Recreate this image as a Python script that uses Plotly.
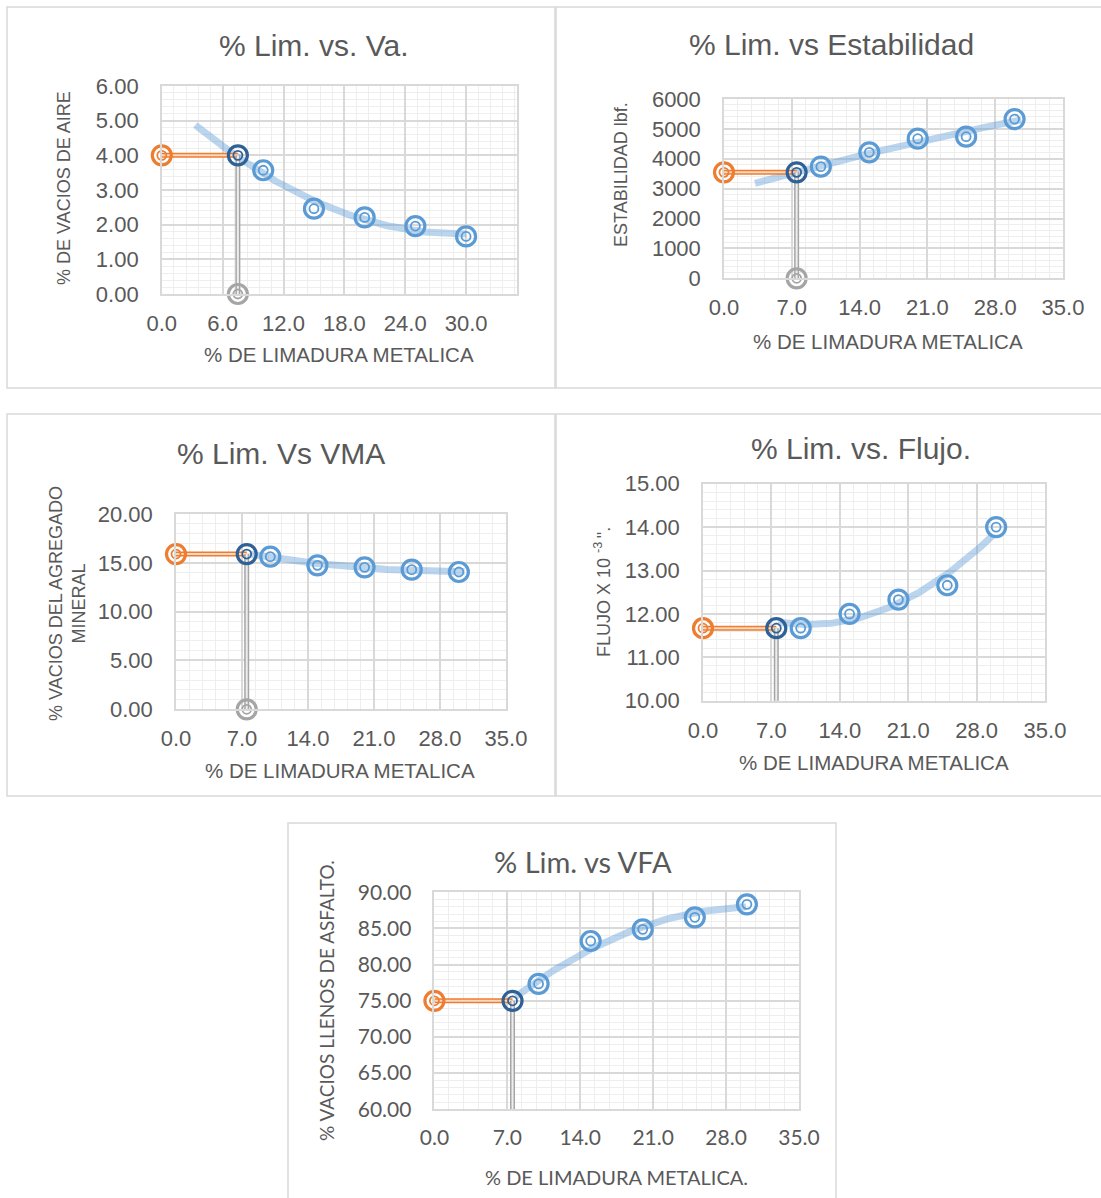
import numpy as np
import plotly.graph_objects as go

# ---------------- data ----------------
x_lim = [10, 15, 20, 25, 30]          # % de limadura metalica (ensayos)
x_opt = 7.5                            # % optimo de limadura

va = [3.57, 2.46, 2.21, 1.96, 1.66]
va_opt = 4.00
estab = [3735, 4214, 4671, 4738, 5329]
estab_opt = 3545
vma = [15.63, 14.74, 14.54, 14.30, 14.06]
vma_opt = 15.90
flujo = [11.67, 12.00, 12.33, 12.66, 14.00]
flujo_opt = 11.67
vfa = [77.33, 83.27, 84.88, 86.54, 88.34]
vfa_opt = 75.00

titles = ["% Lim. vs. Va.", "% Lim. vs Estabilidad", "% Lim. Vs VMA",
          "% Lim. vs. Flujo.", "% Lim. vs VFA"]
x_titles = ["% DE LIMADURA METALICA", "% DE LIMADURA METALICA",
            "% DE LIMADURA METALICA", "% DE LIMADURA METALICA",
            "% DE LIMADURA METALICA."]
y_titles = ["% DE VACIOS DE AIRE", "ESTABILIDAD lbf.",
            "% VACIOS DEL AGREGADO<br>MINERAL",
            "FLUJO X 10 <sup>-3 </sup>\".", "% VACIOS LLENOS DE ASFALTO."]

# ---------------- layout helpers ----------------
W, H = 1101, 1198
def px(x):
    return x / W
def py(y):
    return 1 - y / H

TXT = "#595959"
BLUE = "#5b9bd5"
DARK = "#2f6196"
ORANGE = "#ed7d31"
GRAY = "#a5a5a5"
GRID = "#d9d9d9"
MINOR = "#eeeeee"

panels = [
    dict(y=va, yo=va_opt, xr=[0, 35], xd=6, yr=[0, 6], yd=1, ymd=0.2, yfmt=".2f",
         dom=(161.8, 516.8, 86, 294), trend=(3.3, 30), font="Liberation Sans",
         title_pos=(314, 46), xt_pos=(339, 355), yt_pos=(64, 188), clip=False),
    dict(y=estab, yo=estab_opt, xr=[0, 35], xd=7, yr=[0, 6000], yd=1000, ymd=200, yfmt="d",
         dom=(724, 1063, 99, 278.3), trend=(3.2, 30.7), font="Liberation Sans",
         title_pos=(831, 45), xt_pos=(888, 342), yt_pos=(621, 175), clip=False),
    dict(y=vma, yo=vma_opt, xr=[0, 35], xd=7, yr=[0, 20], yd=5, ymd=1, yfmt=".2f",
         dom=(176, 506, 514, 709.3), trend=(7.8, 30.6), font="Liberation Sans",
         title_pos=(281, 453), xt_pos=(340, 770), yt_pos=(67, 604), clip=False),
    dict(y=flujo, yo=flujo_opt, xr=[0, 35], xd=7, yr=[10, 15], yd=1, ymd=0.2, yfmt=".2f",
         dom=(703, 1045, 483.7, 700.7), trend=(7.7, 29.7), font="Liberation Sans",
         title_pos=(861, 448), xt_pos=(874, 762), yt_pos=(602, 592), clip=True),
    dict(y=vfa, yo=vfa_opt, xr=[0, 35], xd=7, yr=[60, 90], yd=5, ymd=1, yfmt=".2f",
         dom=(434.4, 799, 892.3, 1109.3), trend=(7.8, 29.9), font="Lato",
         title_pos=(583, 861), xt_pos=(617, 1177), yt_pos=(326, 1001), clip=True),
]

fig = go.Figure()
layout = dict(template="none", width=W, height=H,
              margin=dict(l=0, r=0, t=0, b=0, pad=0, autoexpand=False),
              paper_bgcolor="white", plot_bgcolor="white", showlegend=False,
              annotations=[], shapes=[])

# panel frames
frames = [(7, 7, 555, 388), (556, 7, 1103, 388), (7, 414, 555, 796),
          (556, 414, 1103, 796), (288, 823, 836, 1201)]
for (x0, y0, x1, y1) in frames:
    layout["shapes"].append(dict(type="rect", xref="paper", yref="paper",
                                 x0=px(x0), x1=px(x1), y0=py(y1), y1=py(y0),
                                 line=dict(color="#d9d9d9", width=1.5),
                                 fillcolor="rgba(0,0,0,0)", layer="below"))

for i, p in enumerate(panels, start=1):
    xa = "x" if i == 1 else f"x{i}"
    ya = "y" if i == 1 else f"y{i}"
    xkey = "xaxis" if i == 1 else f"xaxis{i}"
    ykey = "yaxis" if i == 1 else f"yaxis{i}"
    l, r, t, b = p["dom"]
    is_cal = p["font"] == "Lato"
    tick_font = dict(family=p["font"], size=21 if is_cal else 22, color=TXT)
    layout[xkey] = dict(domain=[px(l), px(r)], range=p["xr"], anchor=ya,
                        tick0=0, dtick=p["xd"], tickformat=".1f", automargin=False,
                        showgrid=True, gridcolor=GRID, gridwidth=1.5,
                        minor=dict(dtick=p["xd"] / 5, tick0=0, showgrid=True,
                                   gridcolor=MINOR, gridwidth=1),
                        showline=True, mirror=True, linecolor=GRID, linewidth=1.5,
                        zeroline=False, ticks="", tickfont=tick_font,
                        ticklabelstandoff=9, fixedrange=True)
    layout[ykey] = dict(domain=[py(b), py(t)], range=p["yr"], anchor=xa,
                        tick0=p["yr"][0], dtick=p["yd"], tickformat=p["yfmt"],
                        automargin=False,
                        showgrid=True, gridcolor=GRID, gridwidth=1.5,
                        minor=dict(dtick=p["ymd"], showgrid=True,
                                   gridcolor=MINOR, gridwidth=1),
                        showline=True, mirror=True, linecolor=GRID, linewidth=1.5,
                        zeroline=False, ticks="", tickfont=tick_font,
                        ticklabelstandoff=17, fixedrange=True)

    # trendline (polynomial order 2 of the test points)
    coef = np.polyfit(x_lim, p["y"], 2)
    xt = np.linspace(p["trend"][0], p["trend"][1], 120)
    fig.add_trace(go.Scatter(x=xt, y=np.polyval(coef, xt), mode="lines",
                             line=dict(color="rgba(91,155,213,0.42)", width=7),
                             xaxis=xa, yaxis=ya, hoverinfo="skip"))
    # horizontal orange connector (double line)
    for col, w in ((ORANGE, 5), ("#fbd9c2", 2)):
        fig.add_trace(go.Scatter(x=[0, x_opt], y=[p["yo"], p["yo"]], mode="lines",
                                 line=dict(color=col, width=w), xaxis=xa, yaxis=ya,
                                 hoverinfo="skip"))
    # vertical gray connector (double line)
    for col, w in ((GRAY, 5), ("#eeeeee", 2)):
        fig.add_trace(go.Scatter(x=[x_opt, x_opt], y=[0, p["yo"]], mode="lines",
                                 line=dict(color=col, width=w), xaxis=xa, yaxis=ya,
                                 hoverinfo="skip"))
    # markers: (x, y, colour, clip) drawn as double rings
    pts = [([0], [p["yo"]], ORANGE, False), ([x_opt], [0], GRAY, p["clip"]),
           (x_lim, p["y"], BLUE, False), ([x_opt], [p["yo"]], DARK, False)]
    for xs, ys, col, clip in pts:
        fig.add_trace(go.Scatter(x=xs, y=ys, mode="markers",
                                 marker=dict(symbol="circle-open", size=19, color=col,
                                             line=dict(color=col, width=3.2)),
                                 cliponaxis=clip, xaxis=xa, yaxis=ya))
        fig.add_trace(go.Scatter(x=xs, y=ys, mode="markers",
                                 marker=dict(symbol="circle-open", size=9, color=col,
                                             line=dict(color=col, width=1.8)),
                                 cliponaxis=clip, xaxis=xa, yaxis=ya))

    tx, ty = p["title_pos"]
    layout["annotations"].append(dict(text=titles[i - 1], xref="paper", yref="paper",
                                      x=px(tx), y=py(ty), xanchor="center", yanchor="middle",
                                      showarrow=False,
                                      font=dict(family=p["font"], size=29 if is_cal else 30,
                                                color=TXT)))
    ax_, ay_ = p["xt_pos"]
    layout["annotations"].append(dict(text=x_titles[i - 1], xref="paper", yref="paper",
                                      x=px(ax_), y=py(ay_), xanchor="center", yanchor="middle",
                                      showarrow=False,
                                      font=dict(family=p["font"], size=20 if is_cal else 20.5,
                                                color=TXT)))
    bx, by = p["yt_pos"]
    layout["annotations"].append(dict(text=y_titles[i - 1], xref="paper", yref="paper",
                                      x=px(bx), y=py(by), xanchor="center", yanchor="middle",
                                      textangle=-90, showarrow=False,
                                      font=dict(family=p["font"], size=19 if is_cal else 18,
                                                color=TXT)))

fig.update_layout(**layout)
fig.write_html("out.html")
